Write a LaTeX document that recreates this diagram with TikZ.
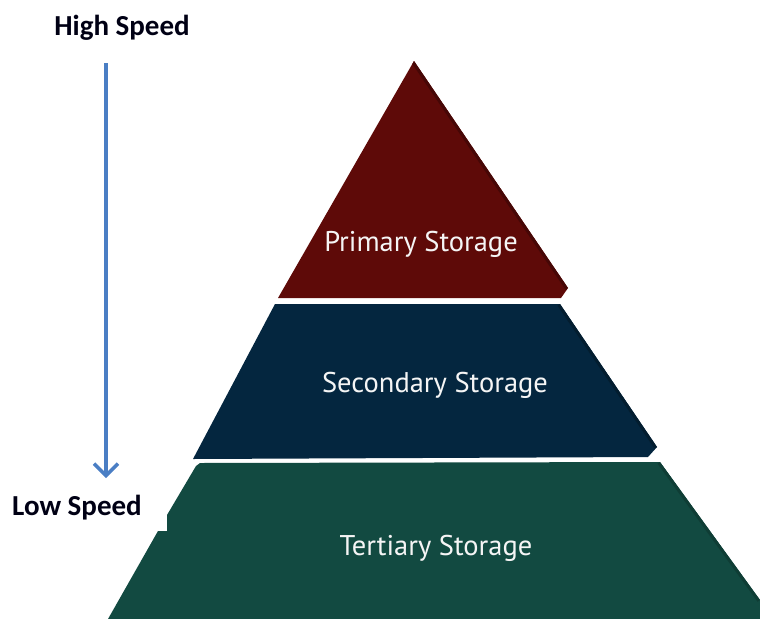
\documentclass[tikz,border=0pt]{standalone}
\usepackage{fontspec}
\setmainfont{Carlito}
\newfontfamily\inner{PT Sans}
\usetikzlibrary{arrows.meta}
\definecolor{primc}{HTML}{5E0A08}
\definecolor{secc}{HTML}{04263F}
\definecolor{terc}{HTML}{124A41}
\definecolor{arrowc}{HTML}{4A7EC4}
\tikzset{
  inlabel/.style={text=white!92!gray, font=\inner\fontsize{28.5}{32}\selectfont, inner sep=0pt},
  sidelabel/.style={text=black!92!blue, font=\bfseries\fontsize{29}{33}\selectfont, inner sep=0pt}
}
\begin{document}
\begin{tikzpicture}[x=1pt,y=-1pt]
\useasboundingbox (0,0) rectangle (760,619);
% Primary
\begin{scope}
\path[clip] (414,61) -- (568,288) -- (561,298) -- (278,298) -- cycle;
\fill[primc] (0,0) rectangle (760,619);
\draw[black!25!primc, line width=6pt] (414,61) -- (568,288);
\end{scope}
% Secondary
\begin{scope}
\path[clip] (275,304) -- (560,304) -- (657,447) -- (648,457) -- (193,459) -- cycle;
\fill[secc] (0,0) rectangle (760,619);
\draw[black!25!secc, line width=6pt] (560,304) -- (657,447);
\end{scope}
% Tertiary
\begin{scope}
\path[clip] (200,463) -- (660,462) -- (760,600) -- (760,619) -- (108,619)
  -- (158,531) -- (167,531) -- (167,515) -- (196,466) -- cycle;
\fill[terc] (0,0) rectangle (760,619);
\draw[black!18!terc, line width=6pt] (660,462) -- (760,600);
\end{scope}
% Labels
\node[inlabel] (p) at (421,244) {Primary Storage};
\node[inlabel] (s) at (435,385) {Secondary Storage};
\node[inlabel] (t) at (436,548) {Tertiary Storage};
\node[sidelabel] (hs) at (122,28) {High Speed};
\node[sidelabel] (ls) at (77,508) {Low Speed};
\coordinate (a1) at (106,63);
\coordinate (a2) at (106,478);
\draw[arrowc, line width=3.5pt, -{Straight Barb[length=12pt,width=24pt,line width=3.5pt]}] (a1) -- (a2);
\end{tikzpicture}
\end{document}
